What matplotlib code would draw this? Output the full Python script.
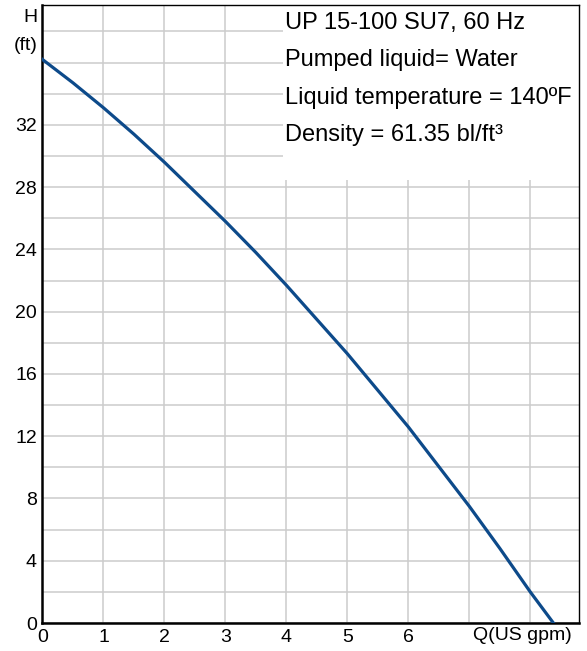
import matplotlib
matplotlib.use("Agg")
from matplotlib import pyplot as plt
from matplotlib.patches import Rectangle

# pump curve
flow = [0, 0.5, 1, 1.5, 2, 2.5, 3, 3.5, 4, 4.5, 5, 5.5, 6, 6.5, 7, 7.5, 8, 8.38]
head = [36.2, 34.7, 33.1, 31.4, 29.6, 27.7, 25.8, 23.8, 21.7, 19.5, 17.3,
        14.95, 12.6, 10.05, 7.5, 4.8, 2.0, 0]

x_ticks = [0, 1, 2, 3, 4, 5, 6]
y_ticks = [0, 4, 8, 12, 16, 20, 24, 28, 32]
info_lines = ["UP 15-100 SU7, 60 Hz",
              "Pumped liquid= Water",
              "Liquid temperature = 140ºF",
              "Density = 61.35 bl/ft³"]

plt.rcParams['font.family'] = ['Liberation Sans', 'DejaVu Sans']

fig = plt.figure(figsize=(5.87, 6.51), dpi=100)
ax = fig.add_axes([0.0724, 0.043, 0.914, 0.9493])

ax.set_xlim(0, 8.8)
ax.set_ylim(0, 39.7)
ax.set_xticks(range(0, 9))
ax.set_yticks(range(0, 40, 2))
ax.set_xticklabels([str(t) if t in x_ticks else "" for t in range(0, 9)])
ax.set_yticklabels([str(t) if t in y_ticks else "" for t in range(0, 40, 2)])
ax.tick_params(length=0, labelsize=14, pad=4)
ax.grid(True, color='#cccccc', linewidth=1.1)
ax.set_axisbelow(True)

for side in ['left', 'bottom']:
    ax.spines[side].set_linewidth(1.8)
for side in ['top', 'right']:
    ax.spines[side].set_linewidth(1.0)

# white panel behind the info text
ax.add_patch(Rectangle((0.448, 0.717), 0.56, 0.3, transform=ax.transAxes,
                       facecolor='white', edgecolor='none', zorder=1))

ax.plot(flow, head, color='#0d4a8a', linewidth=2.3, zorder=3)

for i, line in enumerate(info_lines):
    ax.text(0.452, 0.971 - i * 0.0605, line, transform=ax.transAxes,
            fontsize=17, ha='left', va='center', zorder=4)

ax.text(-0.01, 0.98, "H", transform=ax.transAxes, fontsize=14,
        ha='right', va='center')
ax.text(-0.01, 0.935, "(ft)", transform=ax.transAxes, fontsize=14,
        ha='right', va='center')
ax.text(0.895, -0.006, "Q(US gpm)", transform=ax.transAxes, fontsize=14,
        ha='center', va='top')

fig.savefig("out.png", dpi=100)
